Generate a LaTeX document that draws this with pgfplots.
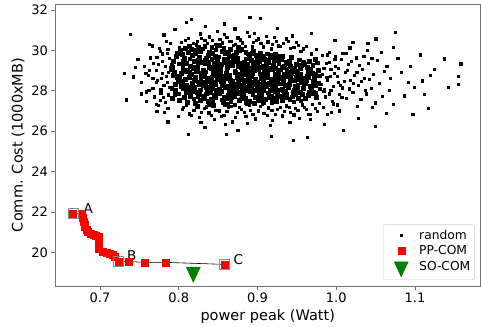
\documentclass[border=0pt]{standalone}
\usepackage{pgfplots}
\pgfplotsset{compat=1.18}
\usepackage{fontspec}
\setmainfont{DejaVu Sans}
\begin{document}
\begin{tikzpicture}
\path[use as bounding box] (-55bp,-41bp) rectangle (426bp,286bp);
\begin{axis}[
  scale only axis, width=425.5bp, height=282bp,
  xmin=0.6429, xmax=1.1832, ymin=18.34, ymax=32.3,
  xtick={0.7,0.8,0.9,1.0,1.1}, ytick={20,22,24,26,28,30,32},
  /pgf/number format/assume math mode=true,
  xticklabel style={/pgf/number format/.cd, fixed, fixed zerofill, precision=1},
  tick label style={font=\fontsize{13bp}{15bp}\selectfont, black},
  label style={font=\fontsize{14.5bp}{17bp}\selectfont},
  xlabel={power peak (Watt)}, ylabel={Comm. Cost (1000xMB)},
  tick pos=left, tick align=outside, major tick length=3.5bp,
  every tick/.style={black!55, line width=0.8bp},
  axis line style={black!55, line width=0.8bp},
  legend style={at={(0.986,0.021)}, anchor=south east, draw=black!20, rounded corners=2bp,
    font=\fontsize{12.3bp}{14bp}\selectfont, row sep=1.2bp, inner xsep=2bp, inner ysep=3bp},
  legend cell align=left,
  legend image code/.code={\path[draw=none,fill=none] (0bp,-0.5bp) rectangle (32bp,0.5bp);\path[#1, draw=none] plot[only marks] coordinates {(16bp,0bp)};},
]
% random (halo + tails)
\addplot[only marks, mark=square*, mark size=1.1bp, black] coordinates {
(.752,28.43)(.756,29.21)(.759,27.96)(.761,28.78)(.764,29.64)(.767,28.15)(.769,27.71)(.771,29.03)(.773,28.52)(.775,30.12)
(.777,27.88)(.779,29.45)(.781,28.27)(.783,27.42)(.785,29.86)(.787,28.91)(.789,30.34)(.782,26.93)(.776,29.97)(.768,29.36)
(.762,28.05)(.758,28.87)(.774,27.29)(.786,27.16)(.788,29.62)(.778,28.63)(.766,30.24)(.772,26.98)(.784,30.47)(.780,27.68)
(.803,30.42)(.812,30.61)(.818,30.37)(.827,30.83)(.833,30.49)(.839,30.68)(.846,30.31)(.852,30.57)(.858,30.79)(.864,30.44)
(.869,30.26)(.875,30.63)(.881,30.38)(.887,30.91)(.893,30.19)(.898,30.52)(.904,30.34)(.911,30.71)(.917,30.09)(.924,30.46)
(.929,30.23)(.936,30.58)(.942,30.12)(.949,30.39)(.955,29.97)(.962,30.21)(.968,29.84)(.975,30.06)(.982,29.78)(.991,29.93)
(.999,29.71)(1.008,29.86)(.822,30.29)(.849,30.95)(.871,31.08)(.896,30.84)(.921,30.66)(.944,30.73)
(.806,27.21)(.813,26.87)(.819,27.05)(.826,26.69)(.832,27.14)(.838,26.92)(.845,26.58)(.851,27.02)(.857,26.81)(.863,27.19)
(.868,26.47)(.874,26.96)(.879,27.11)(.885,26.73)(.891,27.06)(.897,26.62)(.903,27.24)(.908,26.89)(.914,27.17)(.919,26.54)
(.925,27.08)(.931,26.77)(.936,27.27)(.942,26.95)(.948,27.13)(.953,26.66)(.959,27.21)(.964,26.86)(.969,27.32)(.976,26.99)
(.983,27.18)(.989,26.83)(.996,27.36)(1.004,27.02)(.859,26.33)(.887,26.41)(.916,26.29)(.941,26.46)(.828,26.44)(.967,26.58)
(.981,28.34)(.984,29.12)(.986,27.71)(.988,28.68)(.991,29.41)(.993,28.05)(.995,27.49)(.997,28.87)(.999,29.23)(1.002,28.41)
(1.004,27.83)(1.006,29.57)(1.008,28.16)(1.011,28.93)(1.013,27.62)(1.015,29.31)(1.018,28.52)(1.021,27.94)(1.023,28.78)(1.025,29.64)
(1.028,28.27)(1.031,27.58)(1.033,29.08)(1.036,28.63)(1.038,27.86)(1.041,29.37)(1.044,28.12)(1.047,28.84)(1.049,27.41)(1.052,29.51)
(1.055,28.39)(1.058,27.73)(1.061,28.96)(1.064,29.22)(1.067,28.05)(.985,28.06)(.992,28.71)(1.001,27.31)(1.012,29.88)(1.027,27.24)
(1.039,30.03)(1.046,27.18)(1.057,29.91)(1.069,28.61)(.989,29.79)(1.017,30.14)(.978,27.38)(.994,26.96)
(.738,30.80)(.733,27.56)(.731,28.87)(.742,28.70)(.752,27.86)(.759,27.50)(.786,26.47)(.812,25.86)(.781,30.78)(.816,31.54)
(.810,31.38)(.860,25.86)(.890,31.66)(.903,31.58)(1.075,30.91)(1.107,29.79)(1.137,29.59)(1.158,29.34)(1.155,28.72)(1.155,28.34)
(1.142,28.17)(1.117,27.13)(1.097,26.85)(1.049,26.27)(1.009,26.05)(.963,25.69)(.945,25.56)(.917,25.74)(1.119,28.76)(1.109,28.50)
(1.099,28.17)(1.086,27.76)(1.050,30.58)(1.040,30.35)(.748,29.55)(.745,29.18)(.763,30.31)(.795,31.05)(.834,31.22)(.858,31.32)
(.925,31.12)(.968,30.85)(.998,30.52)(1.021,30.41)(1.078,29.61)(1.083,28.92)(1.091,28.44)(1.072,27.35)(1.063,26.88)(1.028,26.63)
(.985,26.35)(.875,26.05)(.833,26.21)(.799,26.74)(.771,27.32)(1.094,29.21)(1.112,27.84)(1.124,29.06)(1.072,30.17)
(.801,30.18)(.808,30.51)(.815,30.27)(.823,30.44)(.829,30.62)(.836,30.35)(.843,30.52)(.848,30.21)(.855,30.38)(.861,30.66)
(.867,30.47)(.872,30.31)(.878,30.53)(.884,30.22)(.889,30.71)(.895,30.41)(.901,30.58)(.907,30.19)(.913,30.43)(.919,30.31)
(.926,30.24)(.933,30.35)(.939,30.47)(.946,30.18)(.952,30.28)(.958,30.09)
(.804,27.09)(.810,27.31)(.816,26.78)(.822,27.19)(.829,26.94)(.835,27.22)(.841,26.81)(.847,27.06)(.854,26.74)(.861,26.98)
(.866,27.26)(.872,26.71)(.877,27.21)(.883,26.93)(.889,27.29)(.894,26.86)(.901,27.02)(.906,27.33)(.912,26.79)(.918,27.04)
(.923,26.85)(.929,27.19)(.934,26.98)(.940,27.21)(.946,26.82)(.951,27.04)(.957,27.31)(.962,27.09)(.967,26.83)(.973,27.16)
(.771,28.41)(.774,29.31)(.777,28.06)(.779,28.88)(.783,29.21)(.785,28.41)(.787,27.81)(.789,29.17)(.776,27.55)(.784,28.72)
(.786,30.08)(.788,28.19)(.779,29.84)(.772,29.68)(.767,28.64)(.763,29.02)
(.982,28.83)(.984,27.97)(.987,29.36)(.989,28.51)(.991,27.86)(.993,29.08)(.996,28.24)(.998,29.56)(1.001,28.72)(1.003,29.13)
(1.005,28.27)(1.007,27.69)(1.010,28.49)(1.014,29.02)(1.016,28.11)(1.019,29.47)(1.022,28.39)(1.026,28.91)(1.029,29.28)(1.032,28.47)
(1.035,29.71)(1.037,28.02)(1.042,28.56)(1.045,29.62)
};
\addlegendentry{random}
% random (dense core)
\addplot[only marks, mark=square*, mark size=1.9bp, black, forget plot] coordinates {
(.791,28.12)(.793,29.47)(.795,27.83)(.798,28.66)(.790,29.05)(.796,28.31)(.792,27.64)(.797,29.71)(.794,28.94)(.799,28.48)(.791,29.28)(.795,27.97)(.793,28.79)(.798,29.88)(.796,28.03)(.792,29.16)
(.801,27.52)(.804,28.36)(.807,29.61)(.803,28.87)(.809,27.91)(.800,29.34)(.806,28.15)(.802,30.02)(.808,28.58)(.805,29.12)(.801,28.71)(.807,27.68)(.804,29.83)(.809,28.99)(.803,28.24)(.806,29.45)(.800,27.86)(.808,30.11)(.802,28.47)(.805,29.26)
(.811,27.43)(.814,28.92)(.817,29.77)(.812,28.21)(.819,28.54)(.815,27.75)(.810,29.38)(.816,30.06)(.813,28.68)(.818,29.14)(.811,28.03)(.817,28.39)(.814,29.59)(.819,27.61)(.812,29.91)(.816,28.81)(.810,28.29)(.815,29.23)(.818,27.97)(.813,30.22)(.811,29.02)(.817,28.12)(.814,27.88)(.819,29.46)
(.821,27.38)(.824,28.45)(.826,29.66)(.823,27.92)(.828,28.77)(.820,29.19)(.825,30.15)(.827,28.06)(.822,28.98)(.829,29.42)(.824,27.71)(.826,28.31)(.821,29.84)(.828,28.58)(.823,29.07)(.827,27.55)(.820,28.19)(.825,29.51)(.829,28.87)(.822,30.03)(.826,27.84)(.824,29.28)(.828,28.42)(.821,28.69)(.827,29.95)(.823,27.26)
(.831,28.27)(.834,29.54)(.837,27.49)(.832,28.83)(.839,29.18)(.835,27.86)(.830,30.09)(.836,28.62)(.833,29.35)(.838,28.04)(.831,27.63)(.834,28.95)(.837,29.77)(.832,28.41)(.839,27.35)(.835,29.62)(.830,28.71)(.836,27.98)(.833,30.21)(.838,28.52)(.831,29.03)(.835,28.17)(.837,29.41)(.832,27.74)(.839,29.91)(.834,28.36)
(.841,27.58)(.844,28.91)(.846,29.73)(.843,28.14)(.848,29.26)(.840,28.47)(.845,27.81)(.847,30.04)(.842,28.66)(.849,29.49)(.844,27.29)(.846,28.33)(.841,29.11)(.848,28.02)(.843,29.88)(.847,28.78)(.840,27.95)(.845,29.37)(.842,30.18)(.849,28.56)(.846,27.67)(.844,29.02)(.841,28.24)(.848,29.64)(.843,27.44)(.847,28.87)(.845,28.41)(.842,29.55)
(.851,28.09)(.854,29.32)(.857,27.71)(.852,28.63)(.859,29.85)(.855,28.28)(.850,29.06)(.856,27.43)(.853,28.94)(.858,29.57)(.851,27.89)(.854,28.46)(.857,30.12)(.852,29.21)(.859,28.17)(.855,27.56)(.850,29.69)(.856,28.74)(.853,28.01)(.858,29.43)(.851,30.27)(.857,28.36)(.854,27.97)(.852,28.81)(.859,27.33)(.855,29.98)(.853,29.14)(.856,28.52)
(.861,27.63)(.864,28.79)(.867,29.41)(.863,28.25)(.868,27.92)(.860,29.93)(.865,28.54)(.862,29.17)(.869,28.07)(.866,27.48)(.861,28.96)(.864,29.72)(.867,28.38)(.863,27.81)(.868,29.29)(.860,28.64)(.865,30.08)(.862,27.35)(.869,29.58)(.866,28.19)(.861,29.34)(.864,28.02)(.867,27.69)(.863,29.86)(.868,28.47)(.860,28.88)(.865,27.98)(.862,29.51)
(.871,28.33)(.874,29.62)(.877,27.54)(.872,28.91)(.879,29.16)(.875,27.86)(.870,29.79)(.876,28.45)(.873,28.06)(.878,29.38)(.871,27.31)(.874,28.69)(.877,30.01)(.872,29.47)(.879,28.22)(.875,28.83)(.870,27.73)(.876,29.24)(.873,29.91)(.878,28.58)(.871,28.97)(.874,27.95)(.877,28.27)(.872,29.69)(.879,27.61)(.875,29.53)(.873,28.14)(.876,30.16)
(.881,27.77)(.884,28.52)(.887,29.31)(.883,28.11)(.888,29.84)(.880,28.76)(.885,27.45)(.882,29.07)(.889,28.36)(.886,29.59)(.881,28.93)(.884,27.62)(.887,28.21)(.883,29.44)(.888,28.67)(.880,30.06)(.885,28.99)(.882,27.88)(.889,29.72)(.886,28.04)(.881,29.23)(.884,28.81)(.887,27.36)(.883,28.48)(.888,29.12)(.880,27.99)(.885,29.91)(.882,28.29)
(.891,28.15)(.894,29.36)(.897,27.68)(.892,28.73)(.899,29.63)(.895,28.41)(.890,27.49)(.896,29.04)(.893,29.88)(.898,28.02)(.891,28.94)(.894,27.83)(.897,28.56)(.892,29.51)(.899,28.27)(.895,29.17)(.890,28.64)(.896,27.38)(.893,28.31)(.898,29.76)(.891,27.97)(.894,28.86)(.897,29.42)(.892,28.09)(.899,27.71)(.895,29.96)
(.901,27.55)(.904,28.68)(.907,29.25)(.903,28.12)(.908,29.71)(.900,28.43)(.905,27.82)(.902,29.47)(.909,28.91)(.906,28.26)(.901,29.06)(.904,27.64)(.907,28.49)(.903,29.89)(.908,28.03)(.900,29.33)(.905,28.77)(.902,27.93)(.909,29.58)(.906,28.61)(.901,28.33)(.904,29.18)(.907,27.41)(.903,28.85)(.908,29.02)(.905,29.66)
(.911,28.22)(.914,29.43)(.917,27.74)(.912,28.81)(.919,29.07)(.915,28.39)(.910,27.58)(.916,29.68)(.913,28.97)(.918,28.14)(.911,29.31)(.914,27.91)(.917,28.58)(.912,29.84)(.919,28.45)(.915,27.67)(.910,28.89)(.916,28.05)(.913,29.53)(.918,27.43)(.911,28.68)(.914,29.12)(.917,29.76)(.912,28.31)
(.921,27.62)(.924,28.74)(.927,29.36)(.923,28.18)(.928,29.71)(.920,28.53)(.925,27.88)(.922,29.14)(.929,28.35)(.926,28.97)(.921,29.52)(.924,27.49)(.927,28.06)(.923,28.82)(.928,27.75)(.920,29.27)(.925,28.41)(.922,27.96)(.929,29.05)(.926,28.63)(.921,28.27)(.924,29.61)(.927,28.88)(.923,29.83)
(.931,28.11)(.934,29.24)(.937,27.69)(.932,28.67)(.939,28.93)(.935,28.29)(.930,29.56)(.936,27.85)(.933,28.48)(.938,29.37)(.931,27.52)(.934,28.81)(.937,29.08)(.932,29.73)(.939,28.16)(.935,27.97)(.930,28.62)(.936,29.44)(.933,28.01)(.938,28.74)(.931,29.19)(.934,27.78)
(.941,28.43)(.944,27.71)(.947,29.15)(.943,28.86)(.948,28.22)(.940,29.48)(.945,27.93)(.942,28.64)(.949,29.31)(.946,28.05)(.941,27.58)(.944,29.02)(.947,28.51)(.943,29.66)(.948,27.84)(.940,28.31)(.945,28.95)(.942,29.24)(.949,28.68)(.946,27.46)
(.951,28.27)(.954,29.11)(.957,27.82)(.953,28.59)(.958,29.43)(.950,28.03)(.955,28.84)(.952,27.64)(.959,28.39)(.956,29.26)(.951,28.97)(.954,27.95)(.957,28.61)(.953,29.54)(.958,28.15)(.950,28.72)(.955,27.51)(.956,28.44)
(.961,28.36)(.964,27.79)(.967,29.08)(.963,28.71)(.968,28.12)(.960,29.33)(.965,27.96)(.962,28.54)(.969,28.89)(.966,29.47)(.961,27.63)(.964,28.93)(.967,28.25)(.963,29.18)(.968,27.86)(.965,28.66)
(.971,28.49)(.974,27.88)(.977,29.02)(.973,28.27)(.978,28.75)(.970,29.28)(.975,27.67)(.972,28.61)(.979,28.11)(.976,29.39)(.971,27.94)(.974,28.84)(.977,28.38)(.973,29.55)
};
% PP-COM
\addplot[only marks, mark=square*, mark size=3.5bp, red, mark options={draw=red, fill=red}] coordinates {
(0.666,21.94)(0.677,21.90)(0.678,21.70)(0.679,21.52)(0.680,21.38)(0.681,21.27)(0.683,21.13)(0.685,21.02)(0.688,20.93)
(0.6915,20.86)(0.695,20.82)(0.698,20.78)(0.698,20.60)(0.698,20.45)(0.699,20.30)(0.699,20.20)(0.704,20.03)(0.708,19.99)
(0.7127,19.96)(0.716,19.88)(0.719,19.79)(0.7233,19.54)(0.736,19.55)(0.7563,19.51)(0.7838,19.51)(0.8584,19.41)
};
\addlegendentry{PP-COM}
\addplot[black, line width=0.6bp, no marks, forget plot] coordinates {
(0.666,21.94)(0.677,21.90)(0.678,21.70)(0.679,21.52)(0.680,21.38)(0.681,21.27)(0.683,21.13)(0.685,21.02)(0.688,20.93)
(0.6915,20.86)(0.695,20.82)(0.698,20.78)(0.698,20.60)(0.698,20.45)(0.699,20.30)(0.699,20.20)(0.704,20.03)(0.708,19.99)
(0.7127,19.96)(0.716,19.88)(0.719,19.79)(0.7233,19.54)(0.736,19.55)(0.7563,19.51)(0.7838,19.51)(0.8584,19.41)
};
\addplot[only marks, mark=square, mark size=5bp, mark options={draw=black!45, line width=1.2bp}, forget plot] coordinates {
(0.666,21.94)(0.7233,19.54)(0.8584,19.41)
};
% SO-COM
\addplot[only marks, mark=triangle*, mark size=8.1bp, color=green!50!black,
  mark options={rotate=180, yscale=1.24, fill=green!50!black, draw=green!50!black}] coordinates {
(0.8185,19.02)
};
\addlegendentry{SO-COM}
\node[font=\fontsize{13.5bp}{15bp}\selectfont, inner sep=0pt] at (axis cs:0.6852,22.15) {A};
\node[font=\fontsize{13.5bp}{15bp}\selectfont, inner sep=0pt] at (axis cs:0.7403,19.87) {B};
\node[font=\fontsize{13.5bp}{15bp}\selectfont, inner sep=0pt] at (axis cs:0.8757,19.67) {C};
\end{axis}
\end{tikzpicture}
\end{document}
